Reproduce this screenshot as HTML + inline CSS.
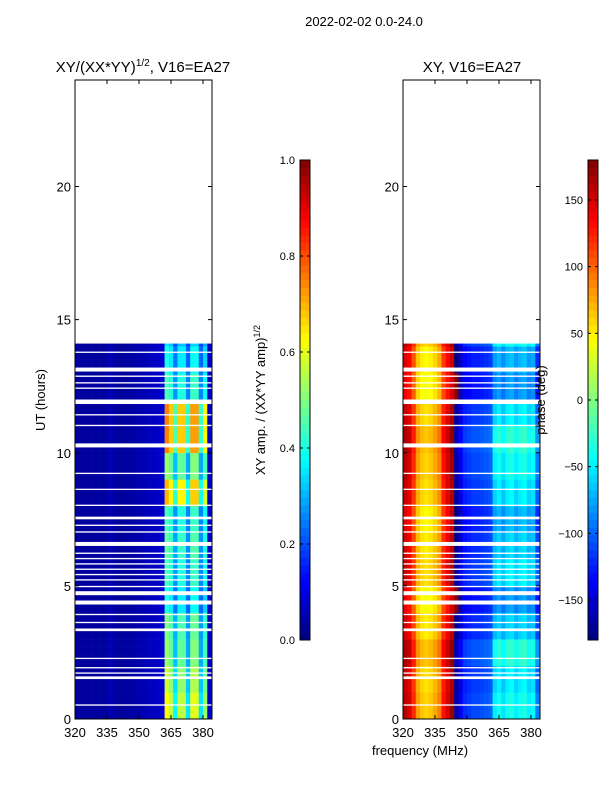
<!DOCTYPE html>
<html><head><meta charset="utf-8"><style>
body{margin:0;background:#fff;}
svg{display:block;font-family:"Liberation Sans",sans-serif;}
</style></head><body>
<svg id="fig" width="600" height="800" viewBox="0 0 600 800" xmlns="http://www.w3.org/2000/svg">
<text x="364" y="26" font-size="13" text-anchor="middle">2022-02-02 0.0-24.0</text>
<text x="143" y="72" font-size="15" text-anchor="middle">XY/(XX*YY)<tspan font-size="10" dy="-6">1/2</tspan><tspan dy="6">, V16=EA27</tspan></text>
<text x="472" y="72" font-size="15" text-anchor="middle">XY, V16=EA27</text>
<text x="420" y="755" font-size="13" text-anchor="middle">frequency (MHz)</text>
<text transform="translate(45,400) rotate(-90)" font-size="13" text-anchor="middle">UT (hours)</text>
<g id="leftHeat"></g>
<g id="rightHeat"></g>
<g id="gaps"></g>
<g id="axes"></g>
<text transform="translate(265,400) rotate(-90)" font-size="13" text-anchor="middle">XY amp. / (XX*YY amp)<tspan font-size="9" dy="-5">1/2</tspan></text>
<text transform="translate(545,400) rotate(-90)" font-size="13" text-anchor="middle">phase (deg)</text>
</svg>
<script>
const freqBins=[320,322,324,326,328,330,332,334,336,338,340,342,344,346,348,350,352,354,356,358,360,362,364,366,368,370,372,374,376,378,380,382];
const ampByFreq=[0.03,0.03,0.03,0.03,0.03,0.03,0.03,0.04,0.05,0.03,0.03,0.03,0.03,0.04,0.04,0.05,0.05,0.06,0.06,0.07,0.08,0.5,0.45,0.3,0.45,0.45,0.28,0.48,0.48,0.28,0.42,0.07];
const ampByHour=[1.25,1.15,1.05,1.0,0.8,0.9,0.95,0.9,1.4,1.05,1.5,1.5,0.9,0.8,0.7];
const phaseByFreq=[150,140,110,70,55,50,55,65,80,120,140,160,-175,-150,-130,-125,-120,-120,-118,-115,-110,-70,-60,-75,-60,-55,-70,-60,-55,-70,-65,-110];
const phaseShiftByHour=[20,10,30,0,-20,10,0,-10,10,20,30,10,-20,-10,20];
const gapsHours=[[0.5,0.55],[1.5,1.6],[1.7,1.75],[1.9,1.95],[2.25,2.3],[3.3,3.4],[3.6,3.65],[3.9,3.95],[4.3,4.45],[4.65,4.8],[4.95,5.0],[5.2,5.25],[5.4,5.45],[5.6,5.65],[5.8,5.85],[6.0,6.05],[6.2,6.25],[6.5,6.65],[7.0,7.05],[7.25,7.3],[7.5,7.6],[8.0,8.05],[8.6,8.65],[9.2,9.25],[10.2,10.35],[11.0,11.05],[11.4,11.45],[11.83,12.0],[12.4,12.45],[12.6,12.65],[12.85,12.9],[13.05,13.2],[13.75,13.8]];
const dataEndHour=14.1;
const cbAmpTicks=[0.0,0.2,0.4,0.6,0.8,1.0];
const cbPhaseTicks=[-150,-100,-50,0,50,100,150];
const xTicks=[320,335,350,365,380];
const yTicks=[0,5,10,15,20];

const NS="http://www.w3.org/2000/svg";
function jet(v){v=Math.max(0,Math.min(1,v));const c=x=>Math.round(255*Math.max(0,Math.min(1,1.5-Math.abs(x))));return `rgb(${c(4*v-3)},${c(4*v-2)},${c(4*v-1)})`;}
const yS=h=>719-h*(639/24);
const xS=(x0)=>f=>x0+(f-320)*(32/15);
function mk(tag,attrs,parent){const e=document.createElementNS(NS,tag);for(const k in attrs)e.setAttribute(k,attrs[k]);parent.appendChild(e);return e;}
const rowStep=0.1;
function drawHeat(gid,x0,valFn){
  const g=document.getElementById(gid);const xs=xS(x0);
  for(let r=0;r*rowStep<dataEndHour-1e-6;r++){
    const h=r*rowStep;
    const hr=Math.floor(h);
    for(let c=0;c<freqBins.length;c++){
      const f=freqBins[c];const x1=xs(f),x2=Math.min(xs(f+2),x0+137);
      const rc=mk('rect',{x:x1.toFixed(2),y:yS(h+rowStep).toFixed(2),width:(x2-x1+0.3).toFixed(2),height:(yS(h)-yS(h+rowStep)+0.3).toFixed(2),fill:valFn(c,hr)},g);
      
      
    }
  }
}
drawHeat('leftHeat',75,(c,hr)=>jet(ampByFreq[c]*(ampByFreq[c]>0.2?ampByHour[hr]:1)));
drawHeat('rightHeat',403,(c,hr)=>{let p=phaseByFreq[c]+(c>=21?phaseShiftByHour[hr]:phaseShiftByHour[hr]*0.5);if(p>180)p-=360;if(p<-180)p+=360;return jet((p+180)/360);});

const gg=document.getElementById('gaps');
[75,403].forEach(x0=>{gapsHours.forEach(gp=>{
  const y1=yS(gp[1]),y2=yS(gp[0]);
  const r=mk('rect',{x:x0,y:y1.toFixed(2),width:137,height:Math.max(1.3,y2-y1).toFixed(2),fill:'#fff'},gg);
  });});

const ax=document.getElementById('axes');
function panel(x0,name){
  const xs=xS(x0);
  const fr=mk('rect',{x:x0,y:80,width:137,height:639,fill:'none',stroke:'#000','stroke-width':1},ax);
  
  xTicks.forEach(t=>{const x=xs(t);
    mk('line',{x1:x,y1:719,x2:x,y2:715,stroke:'#000'},ax);mk('line',{x1:x,y1:80,x2:x,y2:84,stroke:'#000'},ax);
    const tx=mk('text',{x:x,y:737,'font-size':13,'text-anchor':'middle'},ax);tx.textContent=t;
    });
  yTicks.forEach(t=>{const y=yS(t);
    mk('line',{x1:x0,y1:y,x2:x0+4,y2:y,stroke:'#000'},ax);mk('line',{x1:x0+137,y1:y,x2:x0+133,y2:y,stroke:'#000'},ax);
    const tx=mk('text',{x:x0-4,y:y+5,'font-size':13,'text-anchor':'end'},ax);tx.textContent=t;
    });
}
panel(75,'left-panel');panel(403,'right-panel');

function colorbar(x0,ticks,lo,hi,name,fmt){
  const top=160,bot=640,n=64;
  for(let i=0;i<n;i++){const v=(i+0.5)/n;
    const r=mk('rect',{x:x0,y:(bot-(i+1)*(bot-top)/n).toFixed(2),width:10,height:((bot-top)/n+0.4).toFixed(2),fill:jet(v)},ax);
    }
  const f=mk('rect',{x:x0,y:top,width:10,height:bot-top,fill:'none',stroke:'#000'},ax);
  
  ticks.forEach(t=>{const y=bot-(t-lo)/(hi-lo)*(bot-top);
    mk('line',{x1:x0,y1:y,x2:x0+3,y2:y,stroke:'#000'},ax);mk('line',{x1:x0+10,y1:y,x2:x0+7,y2:y,stroke:'#000'},ax);
    const tx=mk('text',{x:x0-5,y:y+4,'font-size':11,'text-anchor':'end'},ax);tx.textContent=fmt(t);
    });
}
colorbar(300,cbAmpTicks,0,1,'amp-colorbar',t=>t.toFixed(1));
colorbar(588,cbPhaseTicks,-180,180,'phase-colorbar',t=>t<0?'\u2212'+(-t):String(t));
</script>
</body></html>
